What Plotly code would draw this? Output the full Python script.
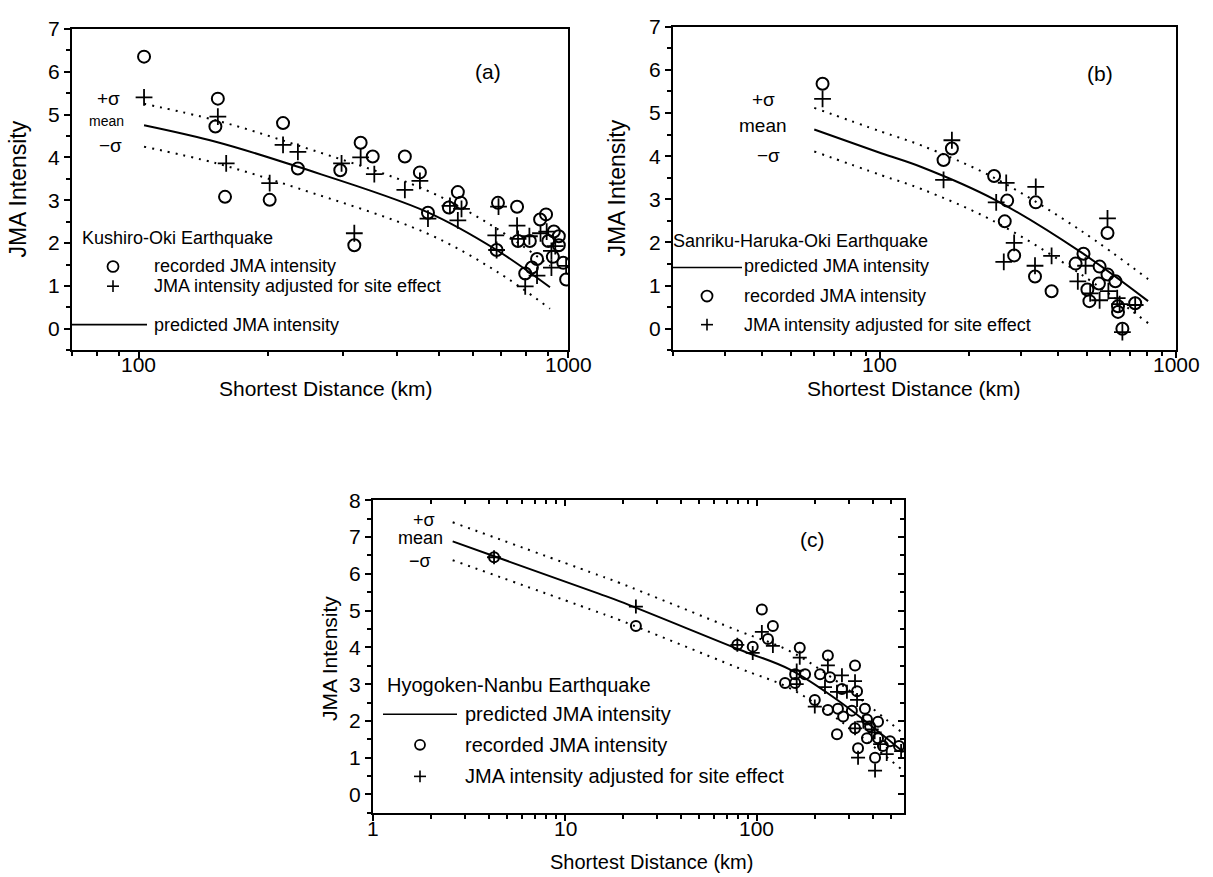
import math
import plotly.graph_objects as go

W, H = 1213, 877
FONT = "Liberation Sans, Arial, sans-serif"

# ---------------- Panel (a): Kushiro-Oki ----------------
a_rec_x = [103, 153, 151, 159, 217, 202, 235, 295, 329, 351, 417, 452, 318, 472, 528, 554, 563,
           687, 761, 682, 765, 815, 861, 889, 927, 952, 900, 952, 922, 975, 990, 847, 824, 795]
a_rec_y = [6.35, 5.37, 4.72, 3.08, 4.80, 3.01, 3.74, 3.70, 4.34, 4.02, 4.02, 3.65, 1.95, 2.71, 2.83, 3.19, 2.94,
           2.94, 2.85, 1.84, 2.05, 2.05, 2.55, 2.67, 2.27, 2.16, 2.05, 1.95, 1.68, 1.54, 1.15, 1.63, 1.43, 1.29]
a_adj_x = [103, 153, 160, 217, 202, 235, 297, 329, 354, 417, 452, 318, 472, 531, 565, 554, 689, 761,
           679, 682, 765, 813, 863, 892, 934, 915, 915, 990, 847, 795]
a_adj_y = [5.40, 4.95, 3.86, 4.29, 3.40, 4.13, 3.86, 4.00, 3.61, 3.24, 3.45, 2.23, 2.57, 2.87, 2.80, 2.53, 2.85, 2.41,
           2.18, 1.84, 2.10, 2.16, 2.23, 2.27, 1.93, 1.82, 1.43, 1.47, 1.24, 0.99]
a_pred_x = [103, 152, 235, 469, 682, 908]
a_pred_y = [4.75, 4.36, 3.78, 2.73, 1.84, 0.97]
a_upper_y = [5.25, 4.86, 4.28, 3.23, 2.34, 1.47]
a_lower_y = [4.25, 3.86, 3.28, 2.23, 1.34, 0.47]

# ---------------- Panel (b): Sanriku-Haruka-Oki ----------------
b_rec_x = [64, 175, 164, 243, 336, 269, 264, 284, 334, 380, 587, 487, 458, 552, 587, 549, 624,
           502, 510, 637, 637, 728, 659]
b_rec_y = [5.68, 4.18, 3.91, 3.54, 2.93, 2.97, 2.49, 1.70, 1.21, 0.87, 2.22, 1.74, 1.51, 1.44, 1.26, 1.05, 1.10,
           0.91, 0.64, 0.52, 0.39, 0.59, 0.00]
b_adj_x = [64, 175, 164, 267, 336, 247, 284, 262, 334, 380, 587, 495, 466, 513, 552, 591, 633, 645, 728, 659]
b_adj_y = [5.33, 4.37, 3.45, 3.38, 3.29, 2.93, 1.99, 1.55, 1.46, 1.69, 2.56, 1.46, 1.10, 0.82, 0.66, 0.87, 0.71,
           0.57, 0.55, -0.08]
b_pred_x = [60, 101, 138, 243, 476, 805]
b_pred_y = [4.62, 4.07, 3.75, 3.00, 1.78, 0.64]
b_upper_y = [5.12, 4.57, 4.25, 3.50, 2.28, 1.15]
b_lower_y = [4.11, 3.56, 3.24, 2.49, 1.27, 0.13]

# ---------------- Panel (c): Hyogoken-Nanbu ----------------
c_rec_x = [4.27, 23.4, 106, 114, 121, 79, 95, 167, 234, 140, 158, 158, 178, 213, 240, 277, 200, 324, 332,
           234, 264, 281, 312, 261, 324, 365, 374, 388, 427, 374, 427, 453, 493, 549, 336, 412]
c_rec_y = [6.45, 4.58, 5.03, 4.23, 4.58, 4.07, 4.02, 3.99, 3.78, 3.03, 3.27, 3.03, 3.27, 3.27, 3.19, 2.87, 2.57,
           3.51, 2.81, 2.30, 2.33, 2.12, 2.28, 1.64, 1.80, 2.33, 2.04, 1.85, 1.98, 1.53, 1.53, 1.32, 1.45, 1.32,
           1.26, 1.00]
c_adj_x = [4.27, 23.4, 106, 121, 79, 95, 167, 161, 161, 234, 277, 226, 200, 261, 294, 324, 332, 324, 358,
           396, 410, 438, 563, 336, 412, 474]
c_adj_y = [6.45, 5.11, 4.42, 4.04, 4.07, 3.85, 3.72, 3.37, 3.00, 3.51, 3.24, 2.92, 2.39, 2.79, 2.79, 3.08, 2.57,
           1.80, 1.98, 1.77, 1.69, 1.37, 1.18, 1.00, 0.65, 1.10]
c_pred_x = [2.6, 15, 19.3, 80, 148, 270, 580]
c_pred_y = [6.88, 5.46, 5.25, 3.95, 3.40, 2.52, 1.15]
c_upper_y = [7.40, 5.96, 5.75, 4.45, 3.90, 3.02, 1.65]
c_lower_y = [6.37, 4.95, 4.74, 3.44, 2.89, 2.01, 0.64]

# ticks
ab_yticks = [0, 1, 2, 3, 4, 5, 6, 7]
ab_yminor = [-0.5, 0.5, 1.5, 2.5, 3.5, 4.5, 5.5, 6.5]
c_yticks = [0, 1, 2, 3, 4, 5, 6, 7, 8]
c_yminor = [-0.5, 0.5, 1.5, 2.5, 3.5, 4.5, 5.5, 6.5, 7.5]
a_xticks = [100, 1000]
a_xminor = [70, 80, 90, 200, 300, 400, 500, 600, 700, 800, 900]
b_xticks = [100, 1000]
b_xminor = [20, 30, 40, 50, 60, 70, 80, 90, 200, 300, 400, 500, 600, 700, 800, 900]
c_xticks = [1, 10, 100]
c_xminor = [2, 3, 4, 5, 6, 7, 8, 9, 20, 30, 40, 50, 60, 70, 80, 90, 200, 300, 400, 500]

fig = go.Figure()


def add_panel(xa, ya, rec_x, rec_y, adj_x, adj_y, px_, py_, up_, lo_, msize):
    fig.add_trace(go.Scatter(x=px_, y=up_, mode="lines", line=dict(color="black", width=2, dash="2px,6px", shape="spline"),
                             xaxis=xa, yaxis=ya, hoverinfo="skip"))
    fig.add_trace(go.Scatter(x=px_, y=lo_, mode="lines", line=dict(color="black", width=2, dash="2px,6px", shape="spline"),
                             xaxis=xa, yaxis=ya, hoverinfo="skip"))
    fig.add_trace(go.Scatter(x=px_, y=py_, mode="lines", line=dict(color="black", width=2, shape="spline"),
                             xaxis=xa, yaxis=ya, hoverinfo="skip"))
    fig.add_trace(go.Scatter(x=rec_x, y=rec_y, mode="markers",
                             marker=dict(symbol="circle-open", size=msize, color="black", line=dict(width=2, color="black")),
                             xaxis=xa, yaxis=ya, hoverinfo="skip"))
    fig.add_trace(go.Scatter(x=adj_x, y=adj_y, mode="markers",
                             marker=dict(symbol="cross-thin-open", size=msize, color="black", line=dict(width=1.8, color="black")),
                             xaxis=xa, yaxis=ya, hoverinfo="skip"))


add_panel("x", "y", a_rec_x, a_rec_y, a_adj_x, a_adj_y, a_pred_x, a_pred_y, a_upper_y, a_lower_y, 12)
add_panel("x2", "y2", b_rec_x, b_rec_y, b_adj_x, b_adj_y, b_pred_x, b_pred_y, b_upper_y, b_lower_y, 12)
add_panel("x3", "y3", c_rec_x, c_rec_y, c_adj_x, c_adj_y, c_pred_x, c_pred_y, c_upper_y, c_lower_y, 10)
# invisible trace carrying the inward ticks of panel (c) top/right
fig.add_trace(go.Scatter(x=[10], y=[1], mode="markers", marker=dict(opacity=0), xaxis="x4", yaxis="y4", hoverinfo="skip"))


def dom_x(l, r):
    return [l / W, r / W]


def dom_y(t, b):
    return [1 - b / H, 1 - t / H]


tickfont = dict(family=FONT, size=21, color="black")
common = dict(showgrid=False, zeroline=False, showline=True, linewidth=2, linecolor="black", mirror=True,
              ticks="outside", ticklen=6, tickwidth=1.5, tickcolor="black", tickfont=tickfont)

fig.update_layout(
    width=W, height=H, margin=dict(l=0, r=0, t=0, b=0),
    paper_bgcolor="white", plot_bgcolor="white", showlegend=False,
    xaxis=dict(type="log", range=[math.log10(70), 3], domain=dom_x(72, 568), anchor="y",
               tickmode="array", tickvals=a_xticks, showticklabels=False,
               minor=dict(tickmode="array", tickvals=a_xminor, ticks="outside", ticklen=4, tickcolor="black"), **common),
    yaxis=dict(range=[-0.5, 7], domain=dom_y(17, 343), anchor="x", tickmode="array", tickvals=ab_yticks,
               minor=dict(tickmode="array", tickvals=ab_yminor, ticks="outside", ticklen=4, tickcolor="black"), **common),
    xaxis2=dict(type="log", range=[math.log10(20), 3], domain=dom_x(673, 1176), anchor="y2",
                tickmode="array", tickvals=b_xticks, showticklabels=False,
                minor=dict(tickmode="array", tickvals=b_xminor, ticks="outside", ticklen=4, tickcolor="black"), **common),
    yaxis2=dict(range=[-0.5, 7], domain=dom_y(15, 343), anchor="x2", tickmode="array", tickvals=ab_yticks,
                minor=dict(tickmode="array", tickvals=ab_yminor, ticks="outside", ticklen=4, tickcolor="black"), **common),
    xaxis3=dict(type="log", range=[0, math.log10(583)], domain=dom_x(373, 904), anchor="y3",
                tickmode="array", tickvals=c_xticks, showticklabels=False,
                minor=dict(tickmode="array", tickvals=c_xminor, ticks="outside", ticklen=4, tickcolor="black"), **common),
    yaxis3=dict(range=[-0.5, 8], domain=dom_y(495, 812), anchor="x3", tickmode="array", tickvals=c_yticks,
                minor=dict(tickmode="array", tickvals=c_yminor, ticks="outside", ticklen=4, tickcolor="black"), **common),
    xaxis4=dict(type="log", range=[0, math.log10(583)], overlaying="x3", side="top", anchor="y3",
                showgrid=False, zeroline=False, showline=False, showticklabels=False,
                tickmode="array", tickvals=c_xticks, ticks="inside", ticklen=6, tickwidth=1.5, tickcolor="black",
                minor=dict(tickmode="array", tickvals=c_xminor, ticks="inside", ticklen=4, tickcolor="black")),
    yaxis4=dict(range=[-0.5, 8], overlaying="y3", side="right", anchor="x3",
                showgrid=False, zeroline=False, showline=False, showticklabels=False,
                tickmode="array", tickvals=c_yticks, ticks="inside", ticklen=6, tickwidth=1.5, tickcolor="black",
                minor=dict(tickmode="array", tickvals=c_yminor, ticks="inside", ticklen=4, tickcolor="black")),
)

ann = []
shapes = []


def text(xp, yp, s, size, xanchor="left", angle=0):
    ann.append(dict(x=xp / W, y=1 - yp / H, xref="paper", yref="paper", text=s, showarrow=False,
                    xanchor=xanchor, yanchor="middle", textangle=angle,
                    font=dict(family=FONT, size=size, color="black")))


def xtick_labels(xref, vals, yp, size=21):
    for v in vals:
        ann.append(dict(x=math.log10(v), y=1 - yp / H, xref=xref, yref="paper", text=str(v), showarrow=False,
                        xanchor="center", yanchor="middle", font=dict(family=FONT, size=size, color="black")))


def circ(cx, cy, r=5.5):
    shapes.append(dict(type="circle", xref="paper", yref="paper", x0=(cx - r) / W, x1=(cx + r) / W,
                       y0=1 - (cy + r) / H, y1=1 - (cy - r) / H, line=dict(color="black", width=1.8)))


def plus(cx, cy, r=6):
    shapes.append(dict(type="line", xref="paper", yref="paper", x0=(cx - r) / W, x1=(cx + r) / W,
                       y0=1 - cy / H, y1=1 - cy / H, line=dict(color="black", width=1.6)))
    shapes.append(dict(type="line", xref="paper", yref="paper", x0=cx / W, x1=cx / W,
                       y0=1 - (cy + r) / H, y1=1 - (cy - r) / H, line=dict(color="black", width=1.6)))


def hline(x0, x1, y):
    shapes.append(dict(type="line", xref="paper", yref="paper", x0=x0 / W, x1=x1 / W,
                       y0=1 - y / H, y1=1 - y / H, line=dict(color="black", width=1.6)))


# x tick labels
xtick_labels("x", a_xticks, 357)
xtick_labels("x2", b_xticks, 357)
xtick_labels("x3", c_xticks, 828)

# Axis titles
text(18, 180, "JMA Intensity", 23, "center", -90)
text(326, 382, "Shortest Distance (km)", 21, "center")
text(617, 179, "JMA Intensity", 23, "center", -90)
text(914, 382, "Shortest Distance (km)", 21, "center")
text(329, 656, "JMA Intensity", 21, "center", -90)
text(651, 862, "Shortest Distance (km)", 20, "center")

# Panel labels
text(488, 60, "(a)", 21, "center")
text(1100, 62, "(b)", 21, "center")
text(812, 535, "(c)", 21, "center")

# sigma labels
text(108, 88, "+σ", 19, "center")
text(106, 111, "mean", 14, "center")
text(110, 135, "−σ", 19, "center")
text(763, 89, "+σ", 19, "center")
text(763, 115, "mean", 19, "center")
text(768, 145, "−σ", 19, "center")
text(424, 515, "+σ", 18, "center")
text(420, 533, "mean", 18, "center")
text(420, 557, "−σ", 18, "center")

# Legend (a)
text(80, 229, "Kushiro-Oki Earthquake", 18)
circ(113, 258)
text(152, 258, "recorded JMA intensity", 18)
plus(113, 278)
text(152, 278, "JMA intensity adjusted for site effect", 18)
hline(72, 147, 317)
text(152, 317, "predicted JMA intensity", 18)

# Legend (b)
text(671, 232, "Sanriku-Haruka-Oki Earthquake", 18)
hline(673, 742, 259)
text(742, 258, "predicted JMA intensity", 18)
circ(707, 288)
text(742, 288, "recorded JMA intensity", 18)
plus(707, 317)
text(742, 317, "JMA intensity adjusted for site effect", 18)

# Legend (c)
text(385, 682, "Hyogoken-Nanbu Earthquake", 20)
hline(383, 457, 712)
text(463, 712, "predicted JMA intensity", 20)
circ(420, 743, 5)
text(463, 743, "recorded JMA intensity", 20)
plus(420, 775)
text(463, 775, "JMA intensity adjusted for site effect", 20)

fig.update_layout(annotations=ann, shapes=shapes)

fig.write_html("out.html", config=dict(displayModeBar=False))
